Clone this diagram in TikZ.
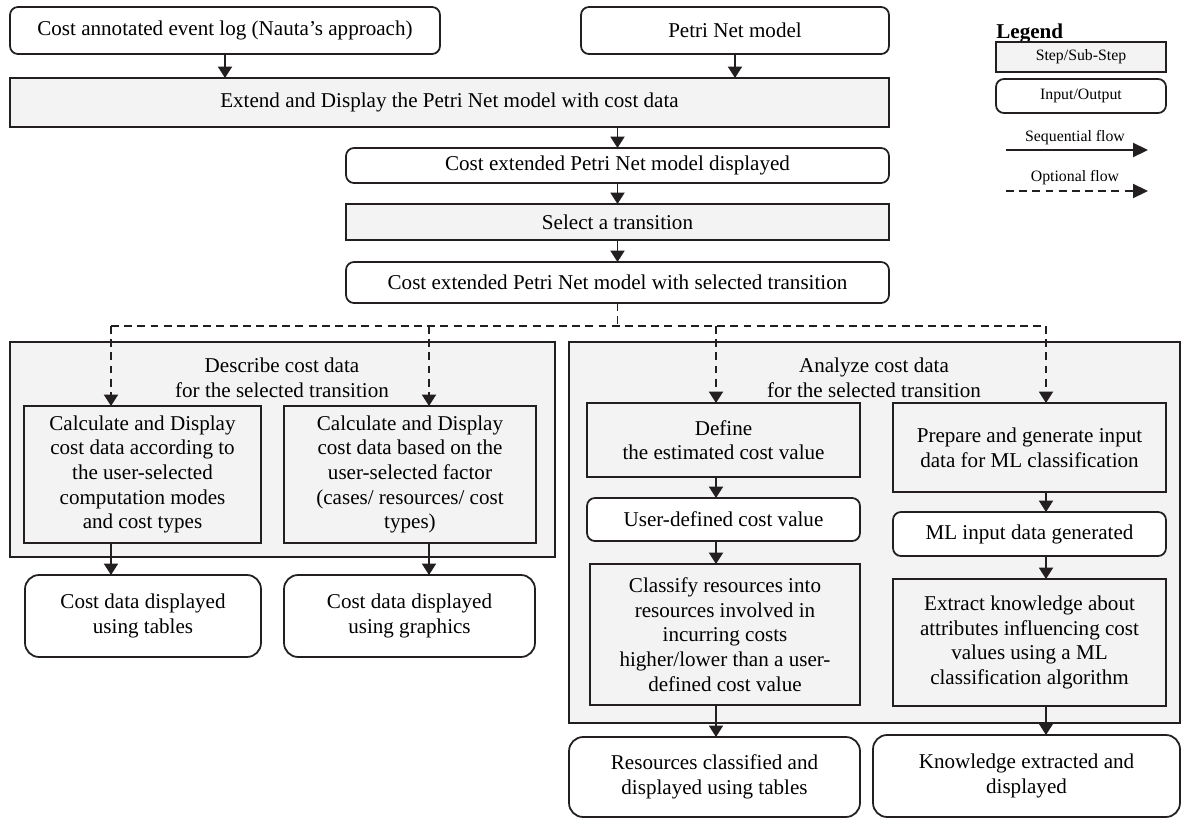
\documentclass[tikz,border=0pt]{standalone}
\usepackage{fontspec}
\setmainfont{Liberation Serif}
\usetikzlibrary{arrows.meta}
\definecolor{stepfill}{RGB}{242,243,242}
\definecolor{linecol}{RGB}{35,31,32}

\begin{document}
\begin{tikzpicture}[x=0.02cm,y=-0.02cm,
  base/.style={draw=linecol,line width=1pt,align=center,inner sep=0pt,outer sep=0pt,font=\fontsize{12}{14}\selectfont},
  step node/.style={base,fill=stepfill},
  io node/.style={base,fill=white,rounded corners=4.5pt},
  out node/.style={base,fill=white,rounded corners=8pt},
  title node/.style={align=center,inner sep=0pt,font=\fontsize{12}{14}\selectfont},
  legend text/.style={inner sep=0pt,font=\fontsize{9}{11}\selectfont},
  seq/.style={color=linecol,line width=1pt,-{Triangle[length=6.5pt,width=8pt]}},
  opt/.style={seq,dash pattern=on 4.5pt off 3pt}]

  \useasboundingbox (0,0) rectangle (1191,818);

  \node[io node,minimum width=8.6cm,minimum height=0.94cm] at (225,30.5) (log) {Cost annotated event log (Nauta’s approach)};
  \node[io node,minimum width=6.16cm,minimum height=0.94cm] at (735,30.5) (petri) {Petri Net model};
  \node[step node,minimum width=17.58cm,minimum height=0.98cm] at (449.5,102.5) (extend) {Extend and Display the Petri Net model with cost data};
  \node[io node,minimum width=10.86cm,minimum height=0.7cm] at (617.5,165.5) (displayed) {Cost extended Petri Net model displayed};
  \node[step node,minimum width=10.86cm,minimum height=0.72cm] at (617.5,222) (select) {Select a transition};
  \node[io node,minimum width=10.86cm,minimum height=0.82cm] at (617.5,282.5) (selected) {Cost extended Petri Net model with selected transition};

  \node[step node,minimum width=10.9cm,minimum height=4.3cm] at (282.5,449.5) (grpdescribe) {};
  \node[title node] at (282,378) (describe) {Describe cost data\\for the selected transition};
  \node[step node,minimum width=4.74cm,minimum height=2.74cm] at (142.5,474.5) (calcmodes) {Calculate and Display\\cost data according to\\the user-selected\\computation modes\\and cost types};
  \node[step node,minimum width=5.04cm,minimum height=2.74cm] at (410,474.5) (calcfactor) {Calculate and Display\\cost data based on the\\user-selected factor\\(cases/ resources/ cost\\types)};
  \node[out node,minimum width=4.72cm,minimum height=1.64cm] at (143,616) (tables) {Cost data displayed\\using tables};
  \node[out node,minimum width=5.02cm,minimum height=1.64cm] at (409.5,616) (graphics) {Cost data displayed\\using graphics};

  \node[step node,minimum width=12.22cm,minimum height=7.62cm] at (874.5,532.5) (grpanalyze) {};
  \node[title node] at (874,378) (analyze) {Analyze cost data\\for the selected transition};
  \node[step node,minimum width=5.46cm,minimum height=1.48cm] at (723.5,440) (define) {Define\\the estimated cost value};
  \node[step node,minimum width=5.46cm,minimum height=1.78cm] at (1029.5,447.5) (prepare) {Prepare and generate input\\data for ML classification};
  \node[io node,minimum width=5.46cm,minimum height=0.86cm] at (723.5,519.5) (userval) {User-defined cost value};
  \node[io node,minimum width=5.46cm,minimum height=0.88cm] at (1029.5,534) (mlinput) {ML input data generated};
  \node[step node,minimum width=5.4cm,minimum height=2.82cm] at (725,634.5) (classify) {Classify resources into\\resources involved in\\incurring costs\\higher/lower than a user-\\defined cost value};
  \node[step node,minimum width=5.46cm,minimum height=2.54cm] at (1029.5,642.5) (extract) {Extract knowledge about\\attributes influencing cost\\values using a ML\\classification algorithm};
  \node[out node,minimum width=5.82cm,minimum height=1.6cm] at (714.5,777) (resclass) {Resources classified and\\displayed using tables};
  \node[out node,minimum width=6.14cm,minimum height=1.64cm] at (1026.5,776) (knowledge) {Knowledge extracted and\\displayed};

  \node[anchor=west,inner sep=0pt,font=\bfseries\fontsize{12}{14}\selectfont] at (996,34) (legend) {Legend};
  \node[step node,minimum width=3.4cm,minimum height=0.6cm,font=\fontsize{9}{11}\selectfont] at (1081,57) (legstep) {Step/Sub-Step};
  \node[io node,minimum width=3.4cm,minimum height=0.68cm,font=\fontsize{9}{11}\selectfont] at (1081,96) (legio) {Input/Output};
  \node[legend text] at (1075,138) (legseq) {Sequential flow};
  \node[legend text] at (1075,178) (legopt) {Optional flow};

  \coordinate (c1) at (111,326);
  \coordinate (c2) at (429,326);
  \coordinate (c3) at (716,326);
  \coordinate (c4) at (1046,326);
  \coordinate (seqa) at (1006,150);
  \coordinate (seqb) at (1148,150);
  \coordinate (opta) at (1006,191);
  \coordinate (optb) at (1148,191);

  \path[seq]
  (log) edge (log |- extend.north)
  (petri) edge (petri |- extend.north)
  (displayed |- extend.south) edge (displayed)
  (displayed) edge (select)
  (select) edge (selected)
  (calcmodes.south -| c1) edge (c1 |- tables.north)
  (calcfactor.south -| c2) edge (c2 |- graphics.north)
  (define.south -| c3) edge (c3 |- userval.north)
  (userval.south -| c3) edge (c3 |- classify.north)
  (classify.south -| c3) edge (c3 |- resclass.north)
  (prepare.south -| c4) edge (c4 |- mlinput.north)
  (mlinput.south -| c4) edge (c4 |- extract.north)
  (extract.south -| c4) edge (c4 |- knowledge.north);

  \draw[opt,-] (selected) -- (selected |- c1) (c1) -- (c4);
  \path[opt]
  (c1) edge (c1 |- calcmodes.north)
  (c2) edge (c2 |- calcfactor.north)
  (c3) edge (c3 |- define.north)
  (c4) edge (c4 |- prepare.north);

  \path[seq,-{Triangle[length=8.5pt,width=8pt]}] (seqa) edge (seqb);
  \path[opt,-{Triangle[length=8.5pt,width=8pt]}] (opta) edge (optb);
\end{tikzpicture}
\end{document}
